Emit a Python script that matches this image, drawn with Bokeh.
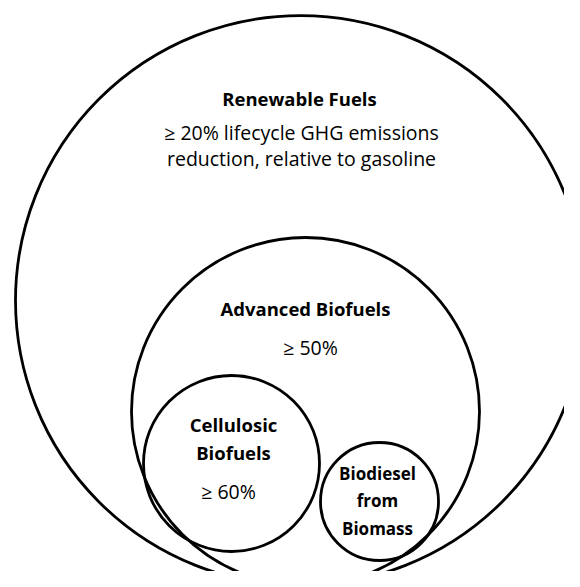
from bokeh.plotting import figure
from bokeh.models import Range1d
from bokeh.core.properties import value
from bokeh.embed import file_html
from bokeh.resources import INLINE

# Nested fuel categories (circle centres and radii in picture units, y downward)
categories = ["Renewable Fuels", "Advanced Biofuels", "Cellulosic Biofuels", "Biodiesel from Biomass"]
circle_x = [300, 305, 231, 379]
circle_y = [300, 411, 463, 501]
circle_r = [285, 174, 88, 59]

# Bold titles (one entry per line)
title_text = ["Renewable Fuels", "Advanced Biofuels", "Cellulosic", "Biofuels", "Biodiesel", "from", "Biomass"]
title_x = [299, 305, 233, 233, 377, 377, 377]
title_y = [98, 308, 424, 452, 473, 500, 528]

# Threshold texts
thr_text = ["≥ 20% lifecycle GHG emissions", "reduction, relative to gasoline", "≥ 50%", "≥ 60%"]
thr_x = [301, 301, 310, 228]
thr_y = [132, 158, 347, 491]

W, H = 564, 571
p = figure(width=W, height=H, output_backend="svg", toolbar_location=None,
           x_range=Range1d(0, W), y_range=Range1d(H, 0),
           min_border=0, outline_line_color=None)
p.axis.visible = False
p.grid.visible = False
p.background_fill_color = "white"
p.border_fill_color = "white"

p.circle(x=circle_x, y=circle_y, radius=circle_r, fill_alpha=0,
         line_color="black", line_width=2.8)

# larger circles' titles
p.text(x=title_x[:4], y=title_y[:4], text=title_text[:4], text_align="center",
       text_baseline="middle", text_font=value("Open Sans"), text_font_style="bold",
       text_font_size="18.5px", text_color="black")
# smallest circle's title
p.text(x=title_x[4:], y=title_y[4:], text=title_text[4:], text_align="center",
       text_baseline="middle", text_font=value("Open Sans"), text_font_style="bold",
       text_font_size="17px", text_color="black")
p.text(x=thr_x, y=thr_y, text=thr_text, text_align="center",
       text_baseline="middle", text_font=value("Open Sans"),
       text_font_size="19.5px", text_color="black")

open("out.html", "w").write(file_html(p, INLINE))
